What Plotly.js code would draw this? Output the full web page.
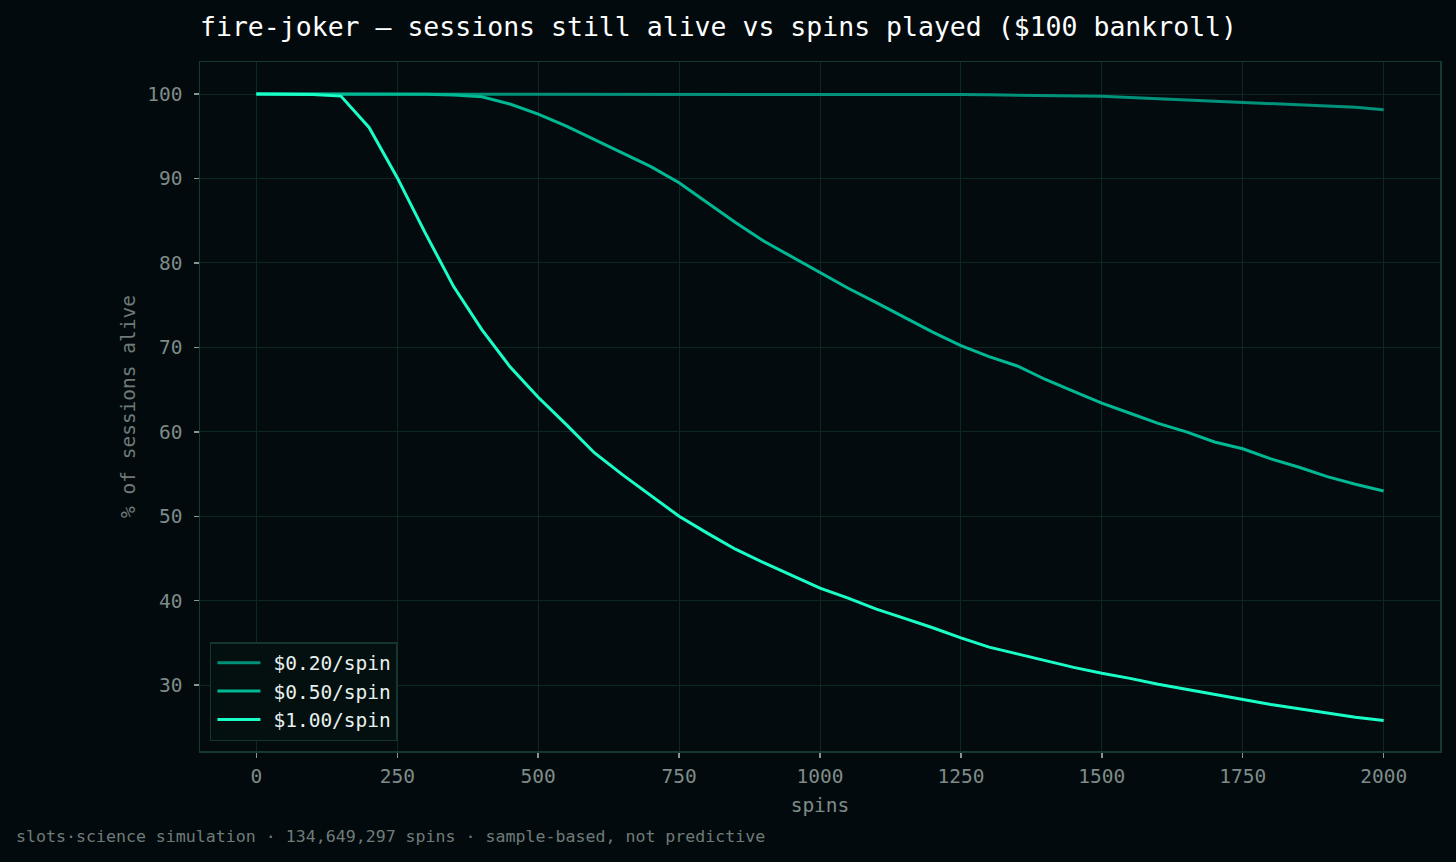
<!DOCTYPE html>
<html>
<head>
<meta charset="utf-8">
<script src="https://cdn.plot.ly/plotly-3.0.1.min.js"></script>
<style>
  html, body { margin: 0; padding: 0; background: #020a0d; }
  #chart { width: 1456px; height: 862px; }
</style>
</head>
<body>
<div id="chart"></div>
<script>
const spins = [0, 50, 100, 150, 200, 250, 300, 350, 400, 450, 500, 550, 600, 650, 700, 750, 800, 850, 900, 950,
  1000, 1050, 1100, 1150, 1200, 1250, 1300, 1350, 1400, 1450, 1500, 1550, 1600, 1650, 1700, 1750, 1800, 1850, 1900, 1950, 2000];

const alive020 = [100, 100, 100, 100, 100, 100, 100, 100, 100, 100, 100, 100, 100, 100, 100, 100, 100, 100, 100, 100,
  100, 100, 100, 99.98, 99.96, 99.94, 99.91, 99.87, 99.83, 99.8, 99.73, 99.6, 99.45, 99.32, 99.17, 99.05, 98.92, 98.77, 98.63, 98.43, 98.15];

const alive050 = [100, 100, 100, 100, 100, 100, 99.98, 99.9, 99.68, 98.82, 97.63, 96.2, 94.6, 92.96, 91.4, 89.5, 87.1, 84.8, 82.6, 80.7,
  78.8, 77.0, 75.3, 73.5, 71.8, 70.2, 68.9, 67.8, 66.2, 64.8, 63.4, 62.2, 61.0, 60.0, 58.8, 58.0, 56.8, 55.8, 54.7, 53.8, 53.0];

const alive100 = [100, 100, 99.95, 99.76, 96.05, 90.1, 83.5, 77.2, 72.1, 67.7, 64.1, 60.85, 57.5, 54.9, 52.4, 50.0, 48.0, 46.1, 44.5, 43.0,
  41.5, 40.3, 39.0, 37.9, 36.8, 35.6, 34.5, 33.7, 32.9, 32.1, 31.4, 30.8, 30.1, 29.5, 28.9, 28.3, 27.7, 27.2, 26.7, 26.2, 25.8];

const seriesNames = ['$0.20/spin', '$0.50/spin', '$1.00/spin'];
const seriesColors = ['#00917a', '#00b894', '#1affc8'];
const xTicks = [0, 250, 500, 750, 1000, 1250, 1500, 1750, 2000];
const yTicks = [30, 40, 50, 60, 70, 80, 90, 100];

const titleText = 'fire-joker — sessions still alive vs spins played ($100 bankroll)';
const footerText = 'slots·science simulation · 134,649,297 spins · sample-based, not predictive';

const FONT = '"DejaVu Sans Mono", "Liberation Mono", monospace';
const ys = [alive020, alive050, alive100];

const traces = ys.map((y, i) => ({
  type: 'scatter',
  mode: 'lines',
  x: spins,
  y: y,
  name: seriesNames[i],
  line: { color: seriesColors[i], width: 3 }
}));

const axisCommon = {
  showgrid: true,
  gridcolor: '#0b2922',
  gridwidth: 1,
  zeroline: false,
  showline: true,
  mirror: true,
  linecolor: '#15392f',
  linewidth: 1.5,
  ticks: 'outside',
  ticklen: 5,
  tickwidth: 1.5,
  tickcolor: '#8a9592',
  tickfont: { family: FONT, size: 19.5, color: '#7f8b88' }
};

const layout = {
  width: 1456,
  height: 862,
  paper_bgcolor: '#020a0d',
  plot_bgcolor: '#030b0e',
  margin: { l: 200, r: 16, t: 62, b: 111 },
  font: { family: FONT, color: '#7f8b88' },
  title: {
    text: titleText,
    font: { family: FONT, size: 26.5, color: '#ffffff' },
    x: 0, xref: 'paper', xanchor: 'left',
    y: 1 - 27 / 862, yref: 'container', yanchor: 'middle'
  },
  xaxis: Object.assign({}, axisCommon, {
    range: [-100, 2100],
    tickvals: xTicks,
    ticktext: xTicks.map(String),
    ticklabelstandoff: 2,
    title: { text: 'spins', font: { family: FONT, size: 19.5, color: '#7f8b88' }, standoff: 11 }
  }),
  yaxis: Object.assign({}, axisCommon, {
    range: [22.2, 103.8],
    tickvals: yTicks,
    ticktext: yTicks.map(String),
    ticklabelstandoff: 7,
    title: { text: '% of sessions alive', font: { family: FONT, size: 19.5, color: '#6f7b78' }, standoff: 6 }
  }),
  showlegend: true,
  legend: {
    x: 0.008, y: 0.0145, xanchor: 'left', yanchor: 'bottom',
    bgcolor: '#03100f',
    bordercolor: '#14362e',
    borderwidth: 1.5,
    itemwidth: 52,
    font: { family: FONT, size: 19.5, color: '#e8f0ee' }
  },
  annotations: [{
    text: footerText,
    xref: 'paper', yref: 'paper',
    x: (14 - 200) / 1240, y: (751 - 836) / 689,
    xanchor: 'left', yanchor: 'middle',
    showarrow: false,
    font: { family: FONT, size: 16.6, color: '#6f7b78' }
  }]
};

Plotly.newPlot('chart', traces, layout, { displayModeBar: false, staticPlot: true }).then(gd => {
  // lengthen the legend line samples to match the reference look
  gd.querySelectorAll('.legend .legendlines path').forEach(p => p.setAttribute('d', 'M6,0h43'));
});
</script>
</body>
</html>
